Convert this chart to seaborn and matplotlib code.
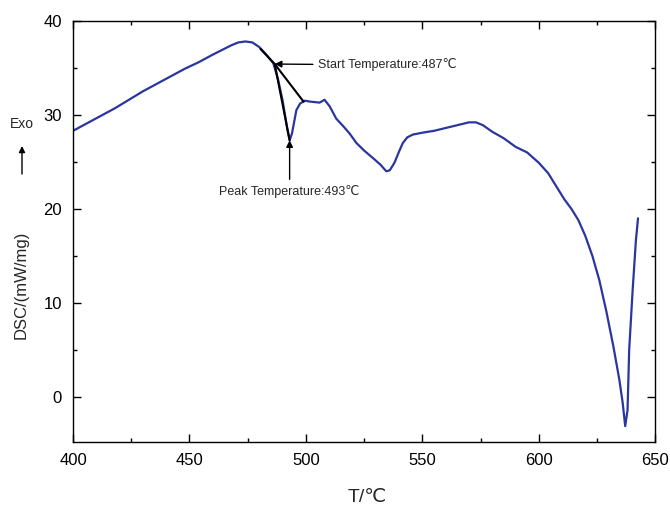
import matplotlib
matplotlib.use("Agg")
import matplotlib.pyplot as plt
import seaborn as sns
import pandas as pd
from matplotlib.ticker import MultipleLocator

sns.set_theme(style="white")
plt.rcParams['font.family'] = ['Liberation Sans', 'DejaVu Sans']

temperature = [400, 406, 412, 418, 424, 430, 436, 442, 448, 454, 460, 464, 468, 471, 474,
               477, 480, 483, 486, 488, 490, 492, 493, 494, 495.9, 497.5, 499.5, 502,
               505.9, 508, 510.2, 513, 516, 518.8, 521.7, 525, 528.8, 532, 534.5, 536,
               538, 540, 541.6, 543.5, 545.9, 550, 555, 560, 565, 570, 573, 576, 580,
               585, 590, 595, 600, 604, 608, 611, 614, 617, 620, 623, 626, 629, 632,
               634.6, 636, 637.1, 638.1, 638.8, 640.3, 641.7, 642.6]
dsc = [28.3, 29.1, 29.9, 30.7, 31.6, 32.5, 33.3, 34.1, 34.9, 35.6, 36.4, 36.9, 37.4, 37.7, 37.8,
       37.7, 37.2, 36.4, 35.5, 33.8, 31.5, 28.5, 27.3, 28.0, 30.5, 31.2, 31.5, 31.4,
       31.3, 31.6, 30.9, 29.6, 28.8, 28.0, 27.0, 26.2, 25.4, 24.7, 24.0, 24.1,
       24.9, 26.1, 27.0, 27.6, 27.9, 28.1, 28.3, 28.6, 28.9, 29.2, 29.2, 28.9, 28.2,
       27.5, 26.6, 26.0, 24.9, 23.8, 22.2, 21.0, 20.0, 18.8, 17.1, 15.0, 12.4, 9.1, 5.4,
       1.8, -0.6, -3.1, -1.4, 5.0, 11.4, 16.7, 19.0]

# tangent construction points
start_point = (486.6, 35.4)
peak_point = (493.0, 27.3)
tangent_upper = (480.5, 37.0)
tangent_end = (499.0, 31.4)

start_label = "Start Temperature:487℃"
peak_label = "Peak Temperature:493℃"

df = pd.DataFrame({"T": temperature, "DSC": dsc})

fig = plt.figure(figsize=(6.7, 5.07), dpi=100)
ax = fig.add_axes([0.109, 0.128, 0.869, 0.831])

sns.lineplot(data=df, x="T", y="DSC", ax=ax, color="#2a36a0", linewidth=1.6, sort=False)

# tangent lines
ax.plot([tangent_upper[0], start_point[0], peak_point[0]],
        [tangent_upper[1], start_point[1], peak_point[1]], color="black", linewidth=1.5)
ax.plot([start_point[0], tangent_end[0]], [start_point[1], tangent_end[1]],
        color="black", linewidth=1.5)

ax.annotate(start_label, xy=start_point, xytext=(505.0, 35.3),
            fontsize=9, va="center", ha="left",
            arrowprops=dict(arrowstyle="-|>", color="black", lw=1.0, mutation_scale=10,
                            shrinkA=1, shrinkB=0))
ax.annotate(peak_label, xy=peak_point, xytext=(493.0, 22.5),
            fontsize=9, va="top", ha="center",
            arrowprops=dict(arrowstyle="-|>", color="black", lw=1.0, mutation_scale=10,
                            shrinkA=2, shrinkB=0))

ax.set_xlim(400, 650)
ax.set_ylim(-4.8, 40)
ax.xaxis.set_major_locator(MultipleLocator(50))
ax.xaxis.set_minor_locator(MultipleLocator(25))
ax.yaxis.set_major_locator(MultipleLocator(10))
ax.yaxis.set_minor_locator(MultipleLocator(5))
ax.tick_params(which="both", direction="in", top=True, right=True, bottom=True, left=True,
               color="black", width=1.0, labelsize=12, labelcolor="black")
ax.tick_params(axis="both", which="major", pad=8)
ax.tick_params(which="major", length=6)
ax.tick_params(which="minor", length=3)
ax.tick_params(axis="x", labeltop=False)
ax.tick_params(axis="y", labelright=False)
for s in ax.spines.values():
    s.set_color("black")
    s.set_linewidth(1.0)

ax.set_xlabel("T/℃", fontsize=14)
ax.xaxis.set_label_coords(0.505, -0.112)
ax.set_ylabel("DSC/(mW/mg)", fontsize=12)
ax.yaxis.set_label_coords(-0.076, 0.373)

# Exo indicator
fig.text(22 / 670, 1 - 124 / 507, "Exo", fontsize=10, ha="center", va="center")
fig.add_artist(matplotlib.patches.FancyArrowPatch((22 / 670, 1 - 174 / 507), (22 / 670, 1 - 146 / 507),
               transform=fig.transFigure, arrowstyle="-|>", mutation_scale=9,
               color="black", lw=1.0, shrinkA=0, shrinkB=0))

fig.savefig("out.png", dpi=100)
